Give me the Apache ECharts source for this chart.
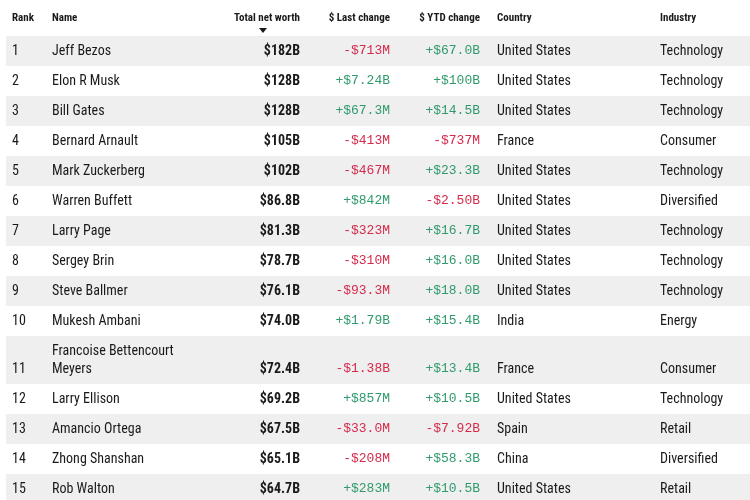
<!DOCTYPE html>
<html>
<head>
<meta charset="utf-8">
<script src="https://cdn.jsdelivr.net/npm/echarts@6/dist/echarts.min.js"></script>
<style>html,body{margin:0;padding:0;background:#fff}#chart{width:750px;height:500px}</style>
</head>
<body>
<div id="chart"></div>
<script>
const headers = ['Rank', 'Name', 'Total net worth', '$ Last change', '$ YTD change', 'Country', 'Industry'];
const ranks = ['1','2','3','4','5','6','7','8','9','10','11','12','13','14','15'];
const names = ['Jeff Bezos', 'Elon R Musk', 'Bill Gates', 'Bernard Arnault', 'Mark Zuckerberg', 'Warren Buffett',
    'Larry Page', 'Sergey Brin', 'Steve Ballmer', 'Mukesh Ambani', 'Francoise Bettencourt\nMeyers',
    'Larry Ellison', 'Amancio Ortega', 'Zhong Shanshan', 'Rob Walton'];
const netWorth = ['$182B','$128B','$128B','$105B','$102B','$86.8B','$81.3B','$78.7B','$76.1B','$74.0B','$72.4B','$69.2B','$67.5B','$65.1B','$64.7B'];
const lastChange = ['-$713M','+$7.24B','+$67.3M','-$413M','-$467M','+$842M','-$323M','-$310M','-$93.3M','+$1.79B','-$1.38B','+$857M','-$33.0M','-$208M','+$283M'];
const ytdChange = ['+$67.0B','+$100B','+$14.5B','-$737M','+$23.3B','-$2.50B','+$16.7B','+$16.0B','+$18.0B','+$15.4B','+$13.4B','+$10.5B','-$7.92B','+$58.3B','+$10.5B'];
const countries = ['United States','United States','United States','France','United States','United States','United States','United States','United States','India','France','United States','Spain','China','United States'];
const industries = ['Technology','Technology','Technology','Consumer','Technology','Diversified','Technology','Technology','Technology','Energy','Consumer','Technology','Retail','Diversified','Retail'];

const chart = echarts.init(document.getElementById('chart'));
const narrow = '"Liberation Sans Narrow", "Roboto Condensed", Roboto, sans-serif';
const mono = '"Liberation Mono", "DejaVu Sans Mono", monospace';
const red = '#d42a4c', green = '#2f9a6c', ink = '#1a1a1a';

// column anchors: [x, align]
const cols = [[12,'left'],[52,'left'],[300,'right'],[390,'right'],[480,'right'],[497,'left'],[660,'left']];
const els = [];
headers.forEach((h, i) => {
    els.push({type:'text', x: cols[i][0], y: 18, style:{text:h, align:cols[i][1], verticalAlign:'middle',
        font:'bold 11px ' + narrow, fill: ink}});
});
els.push({type:'polygon', shape:{points:[[259,28],[267,28],[263,33]]}, style:{fill:ink}});

let rowTop = 36;
ranks.forEach((r, i) => {
    const h = names[i].includes('\n') ? 48 : 30;
    if (i % 2 === 0) els.push({type:'rect', z:-1, shape:{x:6, y:rowTop, width:744, height:h}, style:{fill:'#efefef'}});
    const cy = rowTop + h - 15;
    const txt = (x, align, text, font, fill) => els.push({type:'text', x, y: cy,
        style:{text, align, verticalAlign: 'middle', font, fill}});
    const body = '14px ' + narrow;
    txt(cols[0][0], 'left', r, body, ink);
    if (h > 30) {
        const parts = names[i].split('\n');
        els.push({type:'text', x: cols[1][0], y: cy - 18, style:{text:parts[0], align:'left', verticalAlign:'middle', font:body, fill:ink}});
        txt(cols[1][0], 'left', parts[1], body, ink);
    } else txt(cols[1][0], 'left', names[i], body, ink);
    txt(cols[2][0], 'right', netWorth[i], 'bold 14px ' + narrow, ink);
    txt(cols[3][0], 'right', lastChange[i], '13px ' + mono, lastChange[i][0] === '-' ? red : green);
    txt(cols[4][0], 'right', ytdChange[i], '13px ' + mono, ytdChange[i][0] === '-' ? red : green);
    txt(cols[5][0], 'left', countries[i], body, ink);
    txt(cols[6][0], 'left', industries[i], body, ink);
    rowTop += h;
});

chart.setOption({animation:false, graphic:{elements: els}});
</script>
</body>
</html>
